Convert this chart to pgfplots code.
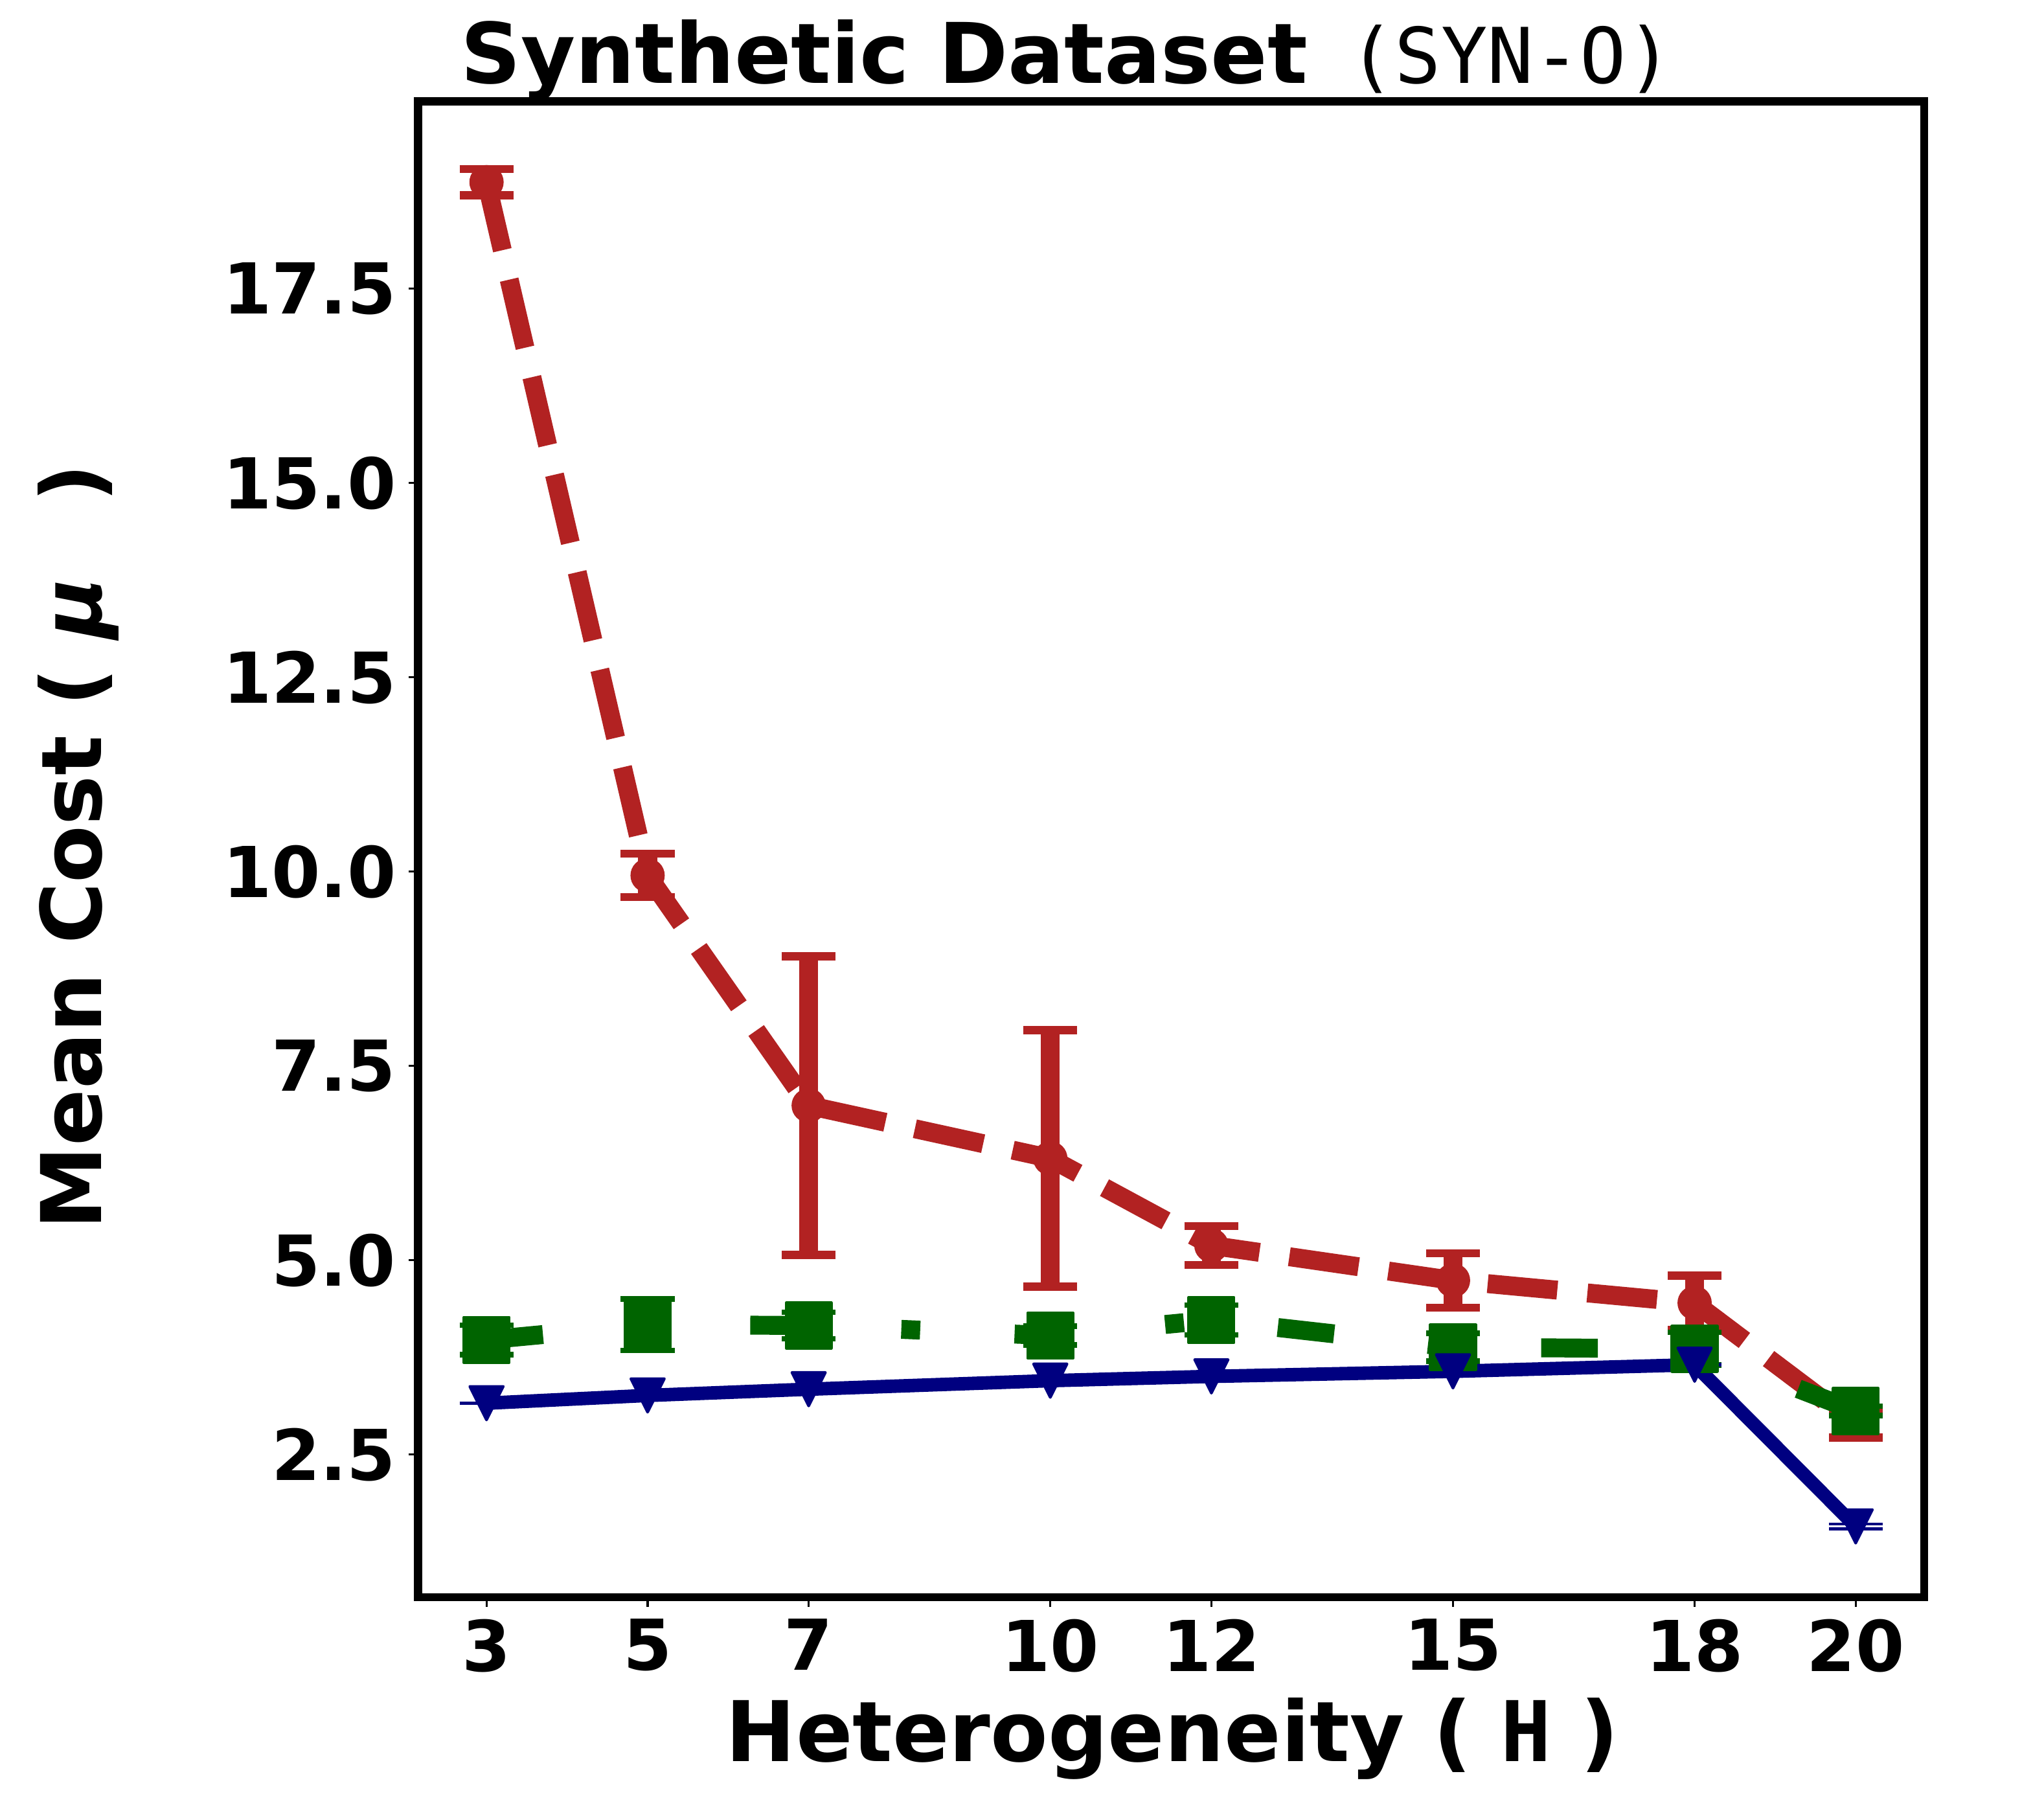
\documentclass[border=0pt]{standalone}
\usepackage{fontspec}
\setmainfont{DejaVu Sans}
\newfontfamily\monofont{DejaVu Sans Mono}
\usepackage{pgfplots}
\pgfplotsset{compat=1.18}
\definecolor{cred}{RGB}{178,34,34}
\definecolor{cgreen}{RGB}{0,100,0}
\definecolor{cblue}{RGB}{0,0,128}
\pgfdeclareplotmark{tridown}{%
  \pgfpathmoveto{\pgfqpoint{-\pgfplotmarksize}{\pgfplotmarksize}}%
  \pgfpathlineto{\pgfqpoint{\pgfplotmarksize}{\pgfplotmarksize}}%
  \pgfpathlineto{\pgfqpoint{0pt}{-\pgfplotmarksize}}%
  \pgfpathclose\pgfusepathqfillstroke}
\begin{document}
\begin{tikzpicture}
\path[use as bounding box] (0,0) rectangle (757.44pt,666.24pt);
\begin{axis}[
  at={(154.92pt,74.4pt)}, anchor=south west,
  scale only axis, width=558.1pt, height=554.3pt,
  xmin=2.15, xmax=20.85, ymin=0.664, ymax=19.91,
  xtick={3,5,7,10,12,15,18,20},
  ytick={2.5,5,7.5,10,12.5,15,17.5},
  /pgf/number format/assume math mode=true,
  yticklabel style={/pgf/number format/fixed, /pgf/number format/fixed zerofill, /pgf/number format/precision=1},
  tick label style={font=\fontsize{26}{30}\selectfont\bfseries, inner sep=0pt},
  xticklabel style={anchor=north, yshift=-4.4pt},
  yticklabel style={anchor=east, xshift=-4.5pt},
  tick align=outside, tick pos=left, major tick length=3.5pt,
  tick style={line width=0.8pt, black},
  axis line style={line width=3pt, black},
]
\addplot[cred, line width=7pt, dash pattern=on 25.9pt off 11.2pt, line join=round,
  mark=*, mark size=5.85pt, mark options={solid, line width=1pt, fill=cred},
  error bars/.cd, y dir=both, y explicit,
  error bar style={line width=7pt, solid, cred},
  error mark options={rotate=90, line width=3pt, mark size=10pt, solid, cred}]
coordinates {
(3,18.87) +- (0,0.17)
(5,9.95) +- (0,0.28)
(7,6.99) +- (0,1.92)
(10,6.31) +- (0,1.65)
(12,5.19) +- (0,0.25)
(15,4.74) +- (0,0.35)
(18,4.45) +- (0,0.35)
(20,2.89) +- (0,0.17)
};
\addplot[cgreen, line width=7pt, dash pattern=on 21pt off 35pt on 7pt off 35pt, line join=round,
  mark=square*, mark size=8.4pt, mark options={solid, line width=1pt, fill=cgreen},
  error bars/.cd, y dir=both, y explicit,
  error bar style={line width=7pt, solid, cgreen},
  error mark options={rotate=90, line width=2pt, mark size=10pt, solid, cgreen}]
coordinates {
(3,3.975) +- (0,0.19)
(5,4.17) +- (0,0.33)
(7,4.16) +- (0,0.17)
(10,4.03) +- (0,0.12)
(12,4.23) +- (0,0.19)
(15,3.88) +- (0,0.18)
(18,3.86) +- (0,0.21)
(20,3.06) +- (0,0.06)
};
\addplot[cblue, line width=5pt, line join=round,
  mark=tridown, mark size=6.2pt, mark options={solid, line width=1pt, fill=cblue},
  error bars/.cd, y dir=both, y explicit,
  error bar style={line width=5pt, solid, cblue},
  error mark options={rotate=90, line width=1pt, mark size=10pt, solid, cblue}]
coordinates {
(3,3.16) +- (0,0.005)
(5,3.26) +- (0,0.008)
(7,3.34) +- (0,0.008)
(10,3.45) +- (0,0.01)
(12,3.505) +- (0,0.01)
(15,3.57) +- (0,0.01)
(18,3.655) +- (0,0.01)
(20,1.575) +- (0,0.032)
};
\end{axis}
\node[anchor=base west, inner sep=0pt] at (170.5pt,635.4pt)
  {\fontsize{31}{37}\selectfont\bfseries Synthetic Dataset};
\node[anchor=base west, inner sep=0pt] at (499.5pt,635.4pt)
  {\monofont\mdseries\fontsize{28.5}{34}\selectfont (SYN-O)};
\node[anchor=base, inner sep=0pt] at (434.4pt,13.44pt)
  {\fontsize{31}{37}\selectfont\bfseries Heterogeneity ( {\monofont H} )};
\node[rotate=90, anchor=base west, inner sep=0pt] at (37.44pt,210.5pt)
  {\fontsize{31}{37}\selectfont\bfseries Mean Cost ( \textit{μ}\hspace{17pt} )};
\end{tikzpicture}
\end{document}
